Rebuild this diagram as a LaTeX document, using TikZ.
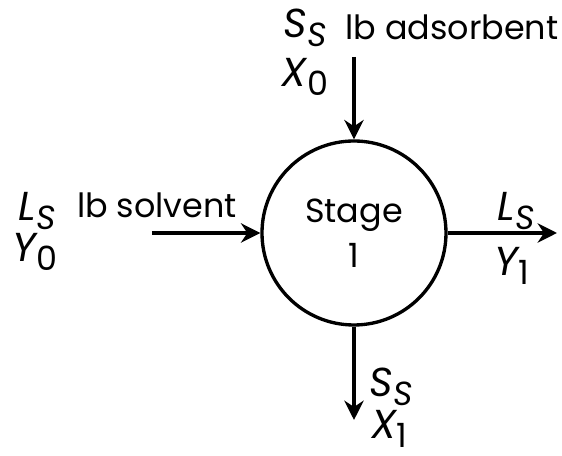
\documentclass[tikz,border=0pt]{standalone}
\usepackage{fontspec}
\setmainfont{Poppins}
\usetikzlibrary{arrows.meta}

% flow quantity: italic letter with a lowered subscript
\newcommand{\flow}[2]{{\fontsize{11.5}{13}\selectfont\itshape #1}\raisebox{-0.5ex}{#2}}

\begin{document}
\begin{tikzpicture}[>={Stealth[length=5.5pt,width=5.5pt]}, line width=0.95pt, font=\fontsize{9.5}{12.8}\selectfont,
    every node/.style={inner sep=1pt}]
    \useasboundingbox (0,0) rectangle (5.62,4.56);

    % Stage
    \node[draw, circle, minimum size=1.84cm, inner sep=0pt, align=center] (stage) at (3.54,2.23) {Stage\\1};

    % Free ends of the streams
    \coordinate (adsIn) at (3.54,3.99);
    \coordinate (solvIn) at (1.52,2.23);
    \coordinate (solvOut) at (5.57,2.23);
    \coordinate (adsOut) at (3.54,0.36);

    \draw[->] (adsIn) -- (stage);
    \draw[->] (solvIn) -- (stage);
    \draw[->] (stage) -- (solvOut);
    \draw[->] (stage) -- (adsOut);

    % Adsorbent in
    \node (ssIn) at (3.05,4.28) {\flow{S}{\textit{S}}};
    \node (adsLbl) at (4.52,4.29) {lb adsorbent};
    \node (xIn) at (3.05,3.79) {\flow{X}{0}};

    % Solvent in
    \node (lsIn) at (0.37,2.45) {\flow{L}{\textit{S}}};
    \node (yIn) at (0.35,2.04) {\flow{Y}{0}};
    \node (solvLbl) at (1.57,2.51) {lb solvent};

    % Solvent out
    \node (lsOut) at (5.16,2.45) {\flow{L}{\textit{S}}};
    \node (yOut) at (5.12,1.90) {\flow{Y}{1}};

    % Adsorbent out
    \node (ssOut) at (3.91,0.69) {\flow{S}{\textit{S}}};
    \node (xOut) at (3.89,0.27) {\flow{X}{1}};
\end{tikzpicture}
\end{document}
